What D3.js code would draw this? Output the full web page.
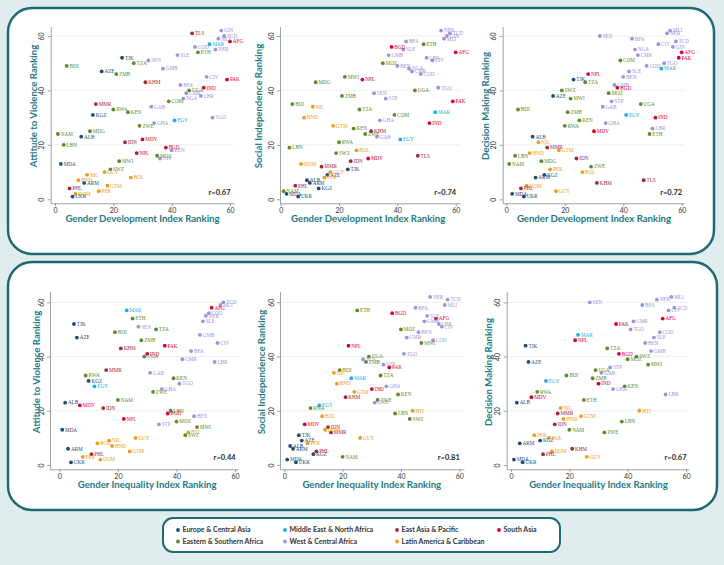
<!DOCTYPE html>
<html><head><meta charset="utf-8">
<script src="https://cdn.jsdelivr.net/npm/d3@7"></script>
<style>
html,body{margin:0;padding:0;background:#e1ecee;}
svg{display:block}
</style></head>
<body>
<svg id="chart" width="724" height="565"></svg>
<script>
// ---------------- DATA ----------------
const countries = ["TLS","GIN","TCD","MLI","AFG","COD","MAR","NER","ETH","TJK","SEN","SLE","TZA","GMB","BDI","AZE","ZMB","CIV","PAK","KHM","BFA","IND","UGA","CMR","NGA","LBR","MMR","RWA","KEN","COM","GAB","KGZ","TGO","GHA","EGY","ZWE","NAM","MDG","ALB","LBN","IDN","MDV","BGD","BEN","NPL","MOZ","STP","MDA","MWI","SWZ","GUY","NIC","HND","BOL","ARM","GTM","PHL","PER","DOM","UKR","HTI"];
// region index: 0 ECA, 1 MENA, 2 EAP, 3 SA, 4 ESA, 5 WCA, 6 LAC
const regionOf = [2,5,5,5,3,5,1,5,4,0,5,5,4,5,4,0,4,5,3,2,5,3,4,5,5,5,2,4,4,4,5,0,5,5,1,4,4,4,0,4,2,3,3,5,3,4,5,0,4,4,6,6,6,6,0,6,2,6,6,0,6];
const gdiRank = [47,57,58,56,60,48,53,55,49,23,32,42,27,37,4,16,21,52,59,31,43,51,46,45,44,50,14,20,25,39,33,13,54,34,41,29,1,12,9,3,24,30,38,40,28,35,36,2,22,19,17,11,8,26,10,18,5,15,7,6,null];
const giiRank = [null,null,56,55,52,51,23,50,25,5,27,49,33,48,19,6,28,54,36,21,45,30,29,42,null,53,16,9,39,null,31,10,41,35,12,32,20,null,2,38,15,7,37,46,22,40,34,1,47,43,26,17,18,13,3,24,11,8,14,4,44];
const violenceRank = [61,62,60,59,58,56,57,55,54,52,51,53,50,48,49,47,46,45,44,43,42,41,40,39,37,38,35,33,32,36,34,31,30,28,29,27,24,25,23,20,21,22,19,18,17,16,15,13,14,11,10,9,7,8,6,5,4,3,2,1,12];
const socialRank = [16,60,61,59,54,46,32,62,57,11,39,55,33,53,35,9,38,51,36,25,58,28,40,47,48,52,12,21,26,31,23,4,41,29,22,24,3,43,7,19,14,15,56,49,44,50,37,2,45,17,10,34,30,18,6,27,5,8,13,1,20];
const decisionRank = [7,56,58,62,54,49,48,61,24,44,60,47,43,42,33,38,32,57,52,6,59,30,35,53,55,26,19,27,29,51,34,9,50,28,31,12,13,14,23,16,15,25,41,45,46,39,36,2,37,40,3,21,17,10,8,18,4,11,5,1,20];

const regionNames = ["Europe & Central Asia","Middle East & North Africa","East Asia & Pacific","South Asia","Eastern & Southern Africa","West & Central Africa","Latin America & Caribbean"];
const regionColors = ["#1f4b7a","#18b0e6","#a2283b","#d8003c","#5c8a2e","#9d93dc","#f29a1d"];
const legendOrder = [0,1,2,3,4,5,6];

const xTickValues = [0,20,40,60];
const yTickValues = [0,20,40,60];
const gridValues = [20,40,60];

const xTitles = ["Gender Development Index Ranking","Gender Inequality Index Ranking"];
const yTitles = ["Attitude to Violence Ranking","Social Independence Ranking","Decision Making Ranking"];
const rTop = ["r=0.67","r=0.74","r=0.72"];
const rBottom = ["r=0.44","r=0.81","r=0.67"];

// ---------------- LAYOUT ----------------
const topY = {y0:199.3, y60:36, yb:203.3, yt:26.7, ytc:106};
const botY = {y0:465, y60:302.3, yb:469.3, yt:291.7, ytc:372};
const panels = [
  {xs:gdiRank, ys:violenceRank, r:rTop[0], xt:xTitles[0], yt:yTitles[0], x0:55,    x60:230,   xl:50.7,  xr:234, ytx:33.3, Y:topY},
  {xs:gdiRank, ys:socialRank,   r:rTop[1], xt:xTitles[0], yt:yTitles[1], x0:280.7, x60:455.7, xl:280,   xr:460, ytx:258.3, Y:topY},
  {xs:gdiRank, ys:decisionRank, r:rTop[2], xt:xTitles[0], yt:yTitles[2], x0:506.3, x60:681.7, xl:502.7, xr:684, ytx:485, Y:topY},
  {xs:giiRank, ys:violenceRank, r:rBottom[0], xt:xTitles[1], yt:yTitles[0], x0:59.3,  x60:235.1, xl:50,    xr:238, ytx:36, Y:botY},
  {xs:giiRank, ys:socialRank,   r:rBottom[1], xt:xTitles[1], yt:yTitles[1], x0:284.3, x60:459.3, xl:280,   xr:464, ytx:261.7, Y:botY},
  {xs:giiRank, ys:decisionRank, r:rBottom[2], xt:xTitles[1], yt:yTitles[2], x0:511,   x60:686,   xl:506.7, xr:689, ytx:488.3, Y:botY}
];

const svg = d3.select("#chart");
const teal = "#1e6a73";
const titleColor = "#1c7a85";

// panel frames
svg.append("rect").attr("x",8).attr("y",8).attr("width",706).attr("height",246).attr("rx",24)
  .attr("fill","#ffffff").attr("stroke",teal).attr("stroke-width",2.5);
svg.append("rect").attr("x",8).attr("y",262).attr("width",709).attr("height",248).attr("rx",24)
  .attr("fill","#ffffff").attr("stroke",teal).attr("stroke-width",2.5);

panels.forEach(p => {
  const base = d3.scaleLinear().domain([0,60]).range([p.x0,p.x60]);
  const x = d3.scaleLinear().domain([base.invert(p.xl), base.invert(p.xr)]).range([p.xl,p.xr]);
  const ybase = d3.scaleLinear().domain([0,60]).range([p.Y.y0,p.Y.y60]);
  const y = d3.scaleLinear().domain([ybase.invert(p.Y.yb), ybase.invert(p.Y.yt)]).range([p.Y.yb,p.Y.yt]);
  const g = svg.append("g");

  // gridlines
  g.selectAll("line.grid").data(gridValues).join("line")
    .attr("x1",p.xl).attr("x2",p.xr).attr("y1",d=>y(d)).attr("y2",d=>y(d))
    .attr("stroke","#e9ecec").attr("stroke-width",0.8);

  // axes
  const xa = g.append("g").attr("transform",`translate(0,${p.Y.yb})`)
    .call(d3.axisBottom(x).tickValues(xTickValues).tickSize(3).tickSizeOuter(0).tickPadding(2));
  const ya = g.append("g").attr("transform",`translate(${p.xl},0)`)
    .call(d3.axisLeft(y).tickValues(yTickValues).tickSize(3).tickSizeOuter(0));
  [xa,ya].forEach(a=>{
    a.select(".domain").attr("stroke","#8a8a8a").attr("stroke-width",0.8);
    a.selectAll(".tick line").attr("stroke","#8a8a8a").attr("stroke-width",0.8);
    a.selectAll("text").attr("fill","#333").attr("font-size",7).attr("font-family","Lato, 'Open Sans', sans-serif");
  });
  ya.selectAll(".tick text")
    .attr("x",0).attr("y",-6.3).attr("dy",0).attr("text-anchor","middle")
    .attr("transform","rotate(-90)");

  // titles
  g.append("text").attr("x",(p.x0+p.x60)/2).attr("y",p.Y.yb+18.7)
    .attr("text-anchor","middle").attr("font-family","Lato, sans-serif").attr("font-weight","bold")
    .attr("font-size",9.6).attr("fill",titleColor).text(p.xt);
  g.append("text").attr("transform",`translate(${p.ytx},${p.Y.ytc}) rotate(-90)`)
    .attr("text-anchor","middle").attr("dominant-baseline","central")
    .attr("font-family","Lato, sans-serif").attr("font-weight","bold")
    .attr("font-size",9.6).attr("fill",titleColor).text(p.yt);

  // r label
  g.append("text").attr("x",p.x60+0.5).attr("y",p.Y.y0-4.8)
    .attr("text-anchor","end").attr("font-family","Lato, sans-serif").attr("font-weight","bold")
    .attr("font-size",7.5).attr("fill","#2a2a2a").text(p.r);

  // points
  const pts = countries.map((c,i)=>({c, reg:regionOf[i], xv:p.xs[i], yv:p.ys[i]}))
    .filter(d=>d.xv!=null && d.yv!=null);
  g.selectAll("circle.pt").data(pts).join("circle")
    .attr("cx",d=>x(d.xv)).attr("cy",d=>y(d.yv)).attr("r",1.9)
    .attr("fill",d=>regionColors[d.reg]);
  g.selectAll("text.lbl").data(pts).join("text")
    .attr("x",d=>x(d.xv)+2.8).attr("y",d=>y(d.yv)).attr("dy","0.35em")
    .attr("font-family","'Liberation Serif', 'DejaVu Serif', serif").attr("font-size",5.2)
    .attr("fill",d=>regionColors[d.reg]).text(d=>d.c);
});

// legend
svg.append("rect").attr("x",163).attr("y",518).attr("width",397).attr("height",34).attr("rx",10)
  .attr("fill","#ffffff").attr("stroke",teal).attr("stroke-width",2);
const legCols = [178, 285, 397, 499];
const legRows = [530, 541.5];
legendOrder.forEach((ri,k)=>{
  const col = k<4 ? k : k-4;
  const row = k<4 ? 0 : 1;
  const lg = svg.append("g").attr("transform",`translate(${legCols[col]},${legRows[row]})`);
  lg.append("circle").attr("r",1.9).attr("fill",regionColors[ri]);
  lg.append("text").attr("x",4.5).attr("dy","0.35em").attr("font-family","Lato, sans-serif")
    .attr("font-weight","bold").attr("font-size",7).attr("fill","#333").text(regionNames[ri]);
});
</script>
</body></html>
